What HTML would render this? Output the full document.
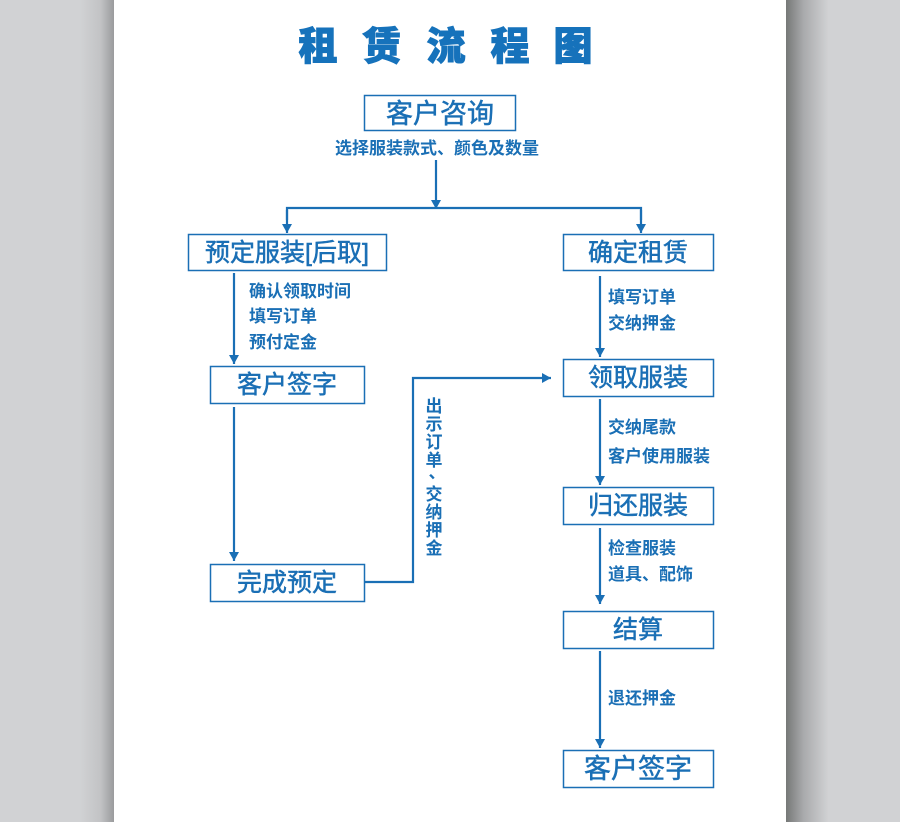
<!DOCTYPE html>
<html><head><meta charset="utf-8"><style>
html,body{margin:0;padding:0;}
body{width:900px;height:822px;overflow:hidden;background:#d1d2d4;position:relative;font-family:"Liberation Sans","Noto Sans CJK SC",sans-serif;}
.ls{position:absolute;left:80px;top:0;width:34px;height:822px;background:linear-gradient(to right,#d1d2d4,#c2c3c5 60%,#9a9b9d);}
.rs{position:absolute;left:786px;top:0;width:50px;height:822px;background:linear-gradient(to right,#767877,#a9aaac 35%,#d1d2d4 85%);}
.pg{position:absolute;left:114px;top:0;width:672px;height:822px;background:#fff;}
svg{position:absolute;left:0;top:0;}
</style></head><body>
<div class="ls"></div><div class="rs"></div><div class="pg"></div>
<svg width="900" height="822" xmlns="http://www.w3.org/2000/svg" font-family="Liberation Sans, Noto Sans CJK SC, sans-serif">
<defs>
<marker id="ar" markerWidth="10" markerHeight="10" refX="9" refY="5" orient="auto" markerUnits="userSpaceOnUse" viewBox="0 0 10 10"><path d="M0,0 L9,5 L0,10 z" fill="#1a6fb5"/></marker></defs>
<g font-size="39" font-weight="900" fill="#1672bb" stroke="#1672bb" stroke-width="1" text-anchor="middle" font-family="Noto Sans CJK SC, sans-serif">
<text x="318" y="60">租</text><text x="382" y="60">赁</text><text x="446" y="60">流</text><text x="510" y="60">程</text><text x="573" y="60">图</text>
</g>
<g fill="#fff" stroke="#1a6fb5" stroke-width="1.5">
<rect x="364.5" y="95.5" width="151" height="35"/>
<rect x="188.5" y="234.5" width="198" height="36"/>
<rect x="563.5" y="234.5" width="150" height="36"/>
<rect x="210.5" y="366.5" width="154" height="37"/>
<rect x="210.5" y="564.5" width="154" height="37"/>
<rect x="563.5" y="359.5" width="150" height="37"/>
<rect x="563.5" y="487.5" width="150" height="37"/>
<rect x="563.5" y="611.5" width="150" height="37"/>
<rect x="563.5" y="750.5" width="150" height="37"/>
</g>
<g stroke="#1a6fb5" stroke-width="2.2" fill="none">
<line x1="436" y1="160" x2="436" y2="209" marker-end="url(#ar)"/>
<polyline points="287,220 287,208 641,208 641,220"/>
<line x1="287" y1="210" x2="287" y2="233" marker-end="url(#ar)"/>
<line x1="641" y1="210" x2="641" y2="233" marker-end="url(#ar)"/>
<line x1="234" y1="273" x2="234" y2="364" marker-end="url(#ar)"/>
<line x1="234" y1="407" x2="234" y2="561" marker-end="url(#ar)"/>
<polyline points="365,582 413,582 413,378 551,378" marker-end="url(#ar)"/>
<line x1="600" y1="276" x2="600" y2="357" marker-end="url(#ar)"/>
<line x1="600" y1="399" x2="600" y2="485" marker-end="url(#ar)"/>
<line x1="600" y1="528" x2="600" y2="604" marker-end="url(#ar)"/>
<line x1="600" y1="651" x2="600" y2="748" marker-end="url(#ar)"/>
</g>
<g fill="#1a6fb5" stroke="#1a6fb5" stroke-width="0.5" font-size="25" text-anchor="middle">
<text x="440" y="123" font-size="27">客户咨询</text>
<text x="287" y="261">预定服装[后取]</text>
<text x="638" y="261">确定租赁</text>
<text x="287" y="393">客户签字</text>
<text x="287" y="591">完成预定</text>
<text x="638" y="386">领取服装</text>
<text x="638" y="514">归还服装</text>
<text x="638" y="638">结算</text>
<text x="638" y="778" font-size="27">客户签字</text>
</g>
<g fill="#1a6fb5" font-size="17" font-weight="bold">
<text x="437" y="154" text-anchor="middle">选择服装款式、颜色及数量</text>
<text x="249" y="297">确认领取时间</text>
<text x="249" y="322">填写订单</text>
<text x="249" y="348">预付定金</text>
<text x="608" y="303">填写订单</text>
<text x="608" y="329">交纳押金</text>
<text x="608" y="433">交纳尾款</text>
<text x="608" y="462">客户使用服装</text>
<text x="608" y="554">检查服装</text>
<text x="608" y="580">道具、配饰</text>
<text x="608" y="704">退还押金</text>
<g text-anchor="middle">
<text x="434" y="412">出</text><text x="434" y="430">示</text><text x="434" y="448">订</text><text x="434" y="466">单</text><text x="437" y="478">、</text><text x="434" y="500">交</text><text x="434" y="518">纳</text><text x="434" y="536">押</text><text x="434" y="554">金</text>
</g>
</g>
</svg>
</body></html>
